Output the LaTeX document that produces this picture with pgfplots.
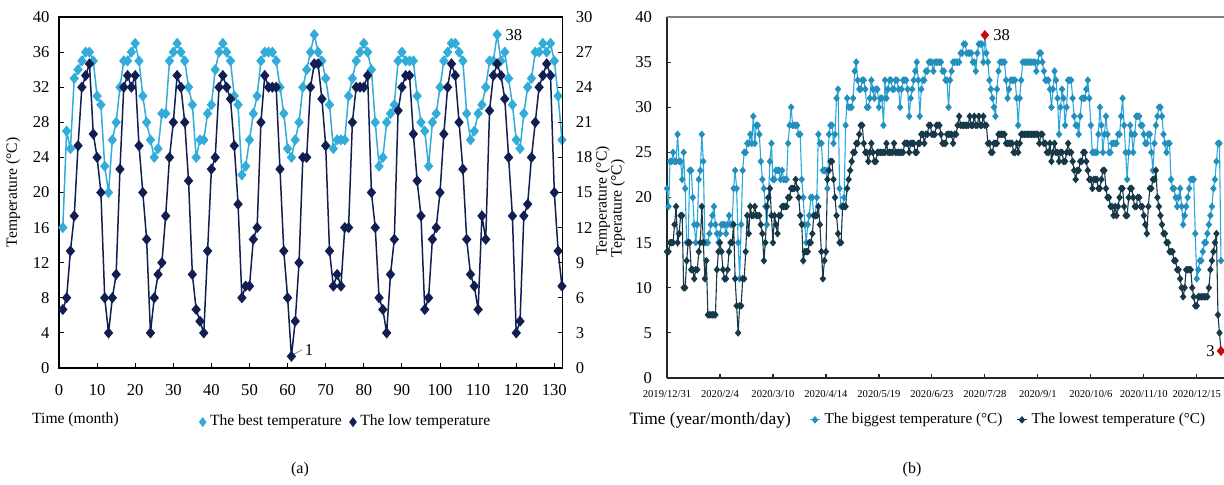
\documentclass[border=0pt]{standalone}
\usepackage{fontspec}
\setmainfont{Liberation Serif}
\usepackage{pgfplots}
\pgfplotsset{compat=1.18}
\definecolor{bestA}{RGB}{50,172,216}
\definecolor{lowA}{RGB}{16,30,82}
\definecolor{highB}{RGB}{40,168,222}
\definecolor{lowB}{RGB}{22,56,72}
\definecolor{redB}{RGB}{200,10,10}
\begin{document}
\begin{tikzpicture}
\path[use as bounding box] (0pt,0pt) rectangle (612pt,242pt);
% ---------------- panel (a) ----------------
\begin{axis}[
  at={(29.5pt,58pt)}, anchor=south west, scale only axis,
  width=251.85pt, height=175.5pt,
  xmin=0, xmax=132.2, ymin=0, ymax=40,
  xtick={0,10,...,130}, ytick={0,4,...,40},
  xtick pos=bottom, ytick pos=left, tick align=inside,
  major tick length=2.5pt, tick style={black, line width=0.5pt},
  axis line style={line width=0.6pt, black},
  ticklabel style={font=\fontsize{8.3}{9}\selectfont},
  xticklabel shift=4.5pt, yticklabel shift=1.2pt,
  /pgf/number format/assume math mode=true,
  clip=false,
  legend style={at={(axis description cs:0.278,-0.154)}, anchor=west, draw=none, fill=none,
    font=\fontsize{7.8}{9}\selectfont, legend columns=2,
    /tikz/every even column/.append style={column sep=2pt}, inner sep=0pt, legend cell align=left},
  legend image code/.code={\draw[#1] plot coordinates {(0pt,0pt)};},
]
\addplot[bestA, line width=0.75pt, mark=diamond*, mark size=2.2pt, mark options={fill=bestA, draw=bestA, xscale=1.12}, forget plot] coordinates {
(1,16)(2,27)(3,25)(4,33)(5,34)(6,35)(7,36)(8,36)(9,35)(10,31)
(11,30)(12,23)(13,20)(14,26)(15,28)(16,32)(17,35)(18,35)(19,36)(20,37)
(21,35)(22,31)(23,28)(24,26)(25,24)(26,25)(27,29)(28,29)(29,35)(30,36)
(31,37)(32,36)(33,35)(34,32)(35,30)(36,24)(37,26)(38,26)(39,29)(40,30)
(41,34)(42,36)(43,37)(44,36)(45,35)(46,31)(47,30)(48,22)(49,23)(50,26)
(51,29)(52,31)(53,35)(54,36)(55,36)(56,36)(57,35)(58,32)(59,29)(60,25)
(61,24)(62,26)(63,28)(64,32)(65,34)(66,36)(67,38)(68,36)(69,35)(70,33)
(71,30)(72,25)(73,26)(74,26)(75,26)(76,31)(77,33)(78,35)(79,36)(80,37)
(81,36)(82,34)(83,28)(84,23)(85,24)(86,28)(87,29)(88,30)(89,35)(90,36)
(91,35)(92,35)(93,35)(94,31)(95,28)(96,27)(97,23)(98,28)(99,29)(100,32)
(101,35)(102,36)(103,37)(104,37)(105,36)(106,35)(107,29)(108,26)(109,27)(110,29)
(111,30)(112,32)(113,35)(114,35)(115,38)(116,35)(117,36)(118,33)(119,30)(120,26)
(121,25)(122,29)(123,32)(124,33)(125,36)(126,36)(127,37)(128,36)(129,37)(130,35)
(131,31)(132,26)};
\addlegendimage{only marks, mark=diamond*, mark size=2.2pt, bestA}
\addlegendentry{The best temperature}
\addlegendimage{only marks, mark=diamond*, mark size=2.2pt, lowA}
\addlegendentry{The low temperature}
\node[anchor=west, inner sep=0pt, font=\fontsize{8.3}{9}\selectfont] at (axis cs:115,38) [xshift=4pt] {38};
\node[anchor=west, inner sep=0pt, font=\fontsize{7.8}{9}\selectfont] at (axis description cs:-0.054,-0.148) {Time (month)};
\node[rotate=90, anchor=center, inner sep=0pt, font=\fontsize{7.8}{9}\selectfont] at (axis description cs:-0.091,0.5) {Temperature (°C)};
\end{axis}
\begin{axis}[
  at={(29.5pt,58pt)}, anchor=south west, scale only axis,
  width=251.85pt, height=175.5pt,
  xmin=0, xmax=132.2, ymin=0, ymax=30,
  axis x line=none, axis y line*=right,
  ytick={0,3,...,30}, tick align=inside,
  major tick length=2.5pt, tick style={black, line width=0.5pt},
  axis line style={line width=0.6pt, black},
  ticklabel style={font=\fontsize{8.3}{9}\selectfont},
  yticklabel shift=3pt,
  /pgf/number format/assume math mode=true,
  clip=false,
]
\addplot[lowA, line width=0.75pt, mark=diamond*, mark size=2.2pt, mark options={fill=lowA, draw=lowA, xscale=1.12}] coordinates {
(1,5)(2,6)(3,10)(4,13)(5,19)(6,24)(7,25)(8,26)(9,20)(10,18)
(11,15)(12,6)(13,3)(14,6)(15,8)(16,17)(17,24)(18,25)(19,24)(20,25)
(21,19)(22,15)(23,11)(24,3)(25,6)(26,8)(27,9)(28,13)(29,18)(30,21)
(31,25)(32,24)(33,21)(34,16)(35,8)(36,5)(37,4)(38,3)(39,10)(40,17)
(41,18)(42,24)(43,25)(44,24)(45,23)(46,19)(47,14)(48,6)(49,7)(50,7)
(51,11)(52,12)(53,21)(54,25)(55,24)(56,24)(57,24)(58,17)(59,10)(60,6)
(61,1)(62,4)(63,9)(64,18)(65,18)(66,24)(67,26)(68,26)(69,23)(70,19)
(71,10)(72,7)(73,8)(74,7)(75,12)(76,12)(77,21)(78,24)(79,24)(80,24)
(81,25)(82,15)(83,12)(84,6)(85,5)(86,3)(87,8)(88,11)(89,22)(90,24)
(91,25)(92,25)(93,20)(94,16)(95,13)(96,5)(97,6)(98,11)(99,12)(100,15)
(101,20)(102,24)(103,26)(104,25)(105,21)(106,17)(107,11)(108,8)(109,7)(110,5)
(111,13)(112,11)(113,22)(114,25)(115,26)(116,25)(117,23)(118,18)(119,13)(120,3)
(121,4)(122,13)(123,14)(124,18)(125,21)(126,24)(127,25)(128,26)(129,25)(130,15)
(131,10)(132,7)};
\draw[gray, line width=0.4pt] (axis cs:61,1) ++(0.8pt,0.8pt) -- ++(4.5pt,2.5pt);
\node[anchor=west, inner sep=0pt, font=\fontsize{8.3}{9}\selectfont] at (axis cs:61,1) [xshift=6.5pt, yshift=3pt] {1};
\end{axis}
\node[font=\fontsize{8}{9}\selectfont] at (150pt,7pt) {(a)};
% ---------------- panel (b) ----------------
\begin{axis}[
  at={(333.5pt,53pt)}, anchor=south west, scale only axis,
  width=278.5pt, height=180.5pt,
  xmin=0, xmax=368, ymin=0, ymax=40,
  axis x line*=bottom, axis y line*=left,
  axis line style={line width=1pt, black!85},
  xtick={0,35,...,350},
  xticklabels={2019/12/31,2020/2/4,2020/3/10,2020/4/14,2020/5/19,2020/6/23,2020/7/28,2020/9/1,2020/10/6,2020/11/10,2020/12/15},
  ytick={0,5,...,40},
  tick align=inside, major tick length=2pt, tick style={black!85, line width=0.6pt},
  xticklabel style={font=\fontsize{5.3}{6}\selectfont},
  yticklabel style={font=\fontsize{8.3}{9}\selectfont},
  xticklabel shift=2.5pt, yticklabel shift=4pt,
  /pgf/number format/assume math mode=true,
  clip=false,
  legend style={at={(axis description cs:0.255,-0.116)}, anchor=west, draw=none, fill=none,
    font=\fontsize{7.6}{9}\selectfont, legend columns=2,
    /tikz/every even column/.append style={column sep=5pt}, inner sep=0pt, legend cell align=left},
  legend image code/.code={\draw[#1, mark repeat=2, mark phase=2] plot coordinates {(0pt,0pt) (2.5pt,0pt) (5pt,0pt)};},
]
\draw[gray, line width=0.6pt] (rel axis cs:0,1) -- (rel axis cs:1,1);
\addplot[highB, line width=0.55pt, mark=diamond*, mark size=1.5pt, mark options={fill=highB!85!black, draw=highB!85!black, xscale=1.12}] coordinates {
(0,21)(1,19)(2,24)(3,24)(4,25)(5,24)(6,24)(7,27)(8,24)(9,24)(10,22)(11,25)(12,21)(13,15)(14,15)(15,23)(16,23)(17,20)(18,17)(19,15)
(20,17)(21,22)(22,23)(23,27)(24,24)(25,15)(26,15)(27,15)(28,16)(29,17)(30,18)(31,19)(32,17)(33,16)(34,15)(35,16)(36,17)(37,17)(38,17)(39,16)
(40,17)(41,18)(42,17)(43,17)(44,21)(45,23)(46,21)(47,15)(48,11)(49,17)(50,23)(51,25)(52,25)(53,26)(54,26)(55,27)(56,26)(57,29)(58,26)(59,28)
(60,28)(61,27)(62,24)(63,22)(64,21)(65,19)(66,17)(67,20)(68,24)(69,26)(70,22)(71,22)(72,23)(73,23)(74,23)(75,22)(76,23)(77,22)(78,22)(79,22)
(80,26)(81,28)(82,30)(83,28)(84,28)(85,28)(86,28)(87,27)(88,27)(89,22)(90,20)(91,17)(92,15)(93,17)(94,18)(95,20)(96,20)(97,18)(98,18)(99,20)
(100,27)(101,26)(102,26)(103,23)(104,23)(105,23)(106,21)(107,27)(108,28)(109,28)(110,26)(111,27)(112,31)(113,32)(114,21)(115,19)(116,19)(117,20)(118,28)(119,31)
(120,30)(121,30)(122,30)(123,31)(124,34)(125,35)(126,33)(127,32)(128,32)(129,33)(130,33)(131,32)(132,30)(133,30)(134,31)(135,33)(136,32)(137,31)(138,32)(139,32)
(140,30)(141,31)(142,31)(143,28)(144,33)(145,31)(146,32)(147,33)(148,33)(149,32)(150,32)(151,33)(152,33)(153,32)(154,30)(155,32)(156,33)(157,33)(158,33)(159,32)
(160,29)(161,31)(162,32)(163,33)(164,34)(165,35)(166,33)(167,29)(168,32)(169,33)(170,33)(171,34)(172,34)(173,35)(174,35)(175,35)(176,34)(177,35)(178,35)(179,35)
(180,35)(181,35)(182,34)(183,34)(184,33)(185,33)(186,30)(187,33)(188,34)(189,35)(190,35)(191,35)(192,35)(193,35)(194,36)(195,36)(196,37)(197,37)(198,36)(199,36)
(200,36)(201,36)(202,35)(203,35)(204,34)(205,36)(206,37)(207,37)(208,37)(209,35)(210,38)(211,36)(212,35)(213,33)(214,32)(215,31)(216,30)(217,29)(218,32)(219,34)
(220,35)(221,35)(222,35)(223,35)(224,33)(225,31)(226,32)(227,33)(228,33)(229,33)(230,33)(231,31)(232,28)(233,31)(234,33)(235,35)(236,35)(237,35)(238,35)(239,35)
(240,35)(241,35)(242,35)(243,35)(244,34)(245,35)(246,36)(247,36)(248,35)(249,34)(250,33)(251,33)(252,33)(253,32)(254,30)(255,32)(256,34)(257,33)(258,31)(259,27)
(260,30)(261,32)(262,31)(263,28)(264,30)(265,33)(266,33)(267,33)(268,31)(269,29)(270,28)(271,28)(272,27)(273,29)(274,31)(275,31)(276,31)(277,32)(278,33)(279,31)
(280,28)(281,25)(282,25)(283,25)(284,25)(285,27)(286,30)(287,28)(288,25)(289,27)(290,29)(291,27)(292,25)(293,25)(294,26)(295,26)(296,26)(297,26)(298,27)(299,27)
(300,29)(301,31)(302,28)(303,25)(304,22)(305,25)(306,28)(307,27)(308,25)(309,27)(310,29)(311,29)(312,29)(313,28)(314,28)(315,27)(316,26)(317,26)(318,27)(319,27)
(320,25)(321,23)(322,26)(323,28)(324,29)(325,30)(326,30)(327,29)(328,27)(329,26)(330,25)(331,26)(332,26)(333,22)(334,21)(335,21)(336,20)(337,19)(338,20)(339,21)
(340,19)(341,17)(342,18)(343,19)(344,20)(345,21)(346,22)(347,22)(348,22)(349,16)(350,11)(351,12)(352,13)(353,13)(354,14)(355,15)(356,15)(357,16)(358,17)(359,18)
(360,19)(361,21)(362,22)(363,24)(364,26)(365,26)(366,13)};
\addlegendentry{The biggest temperature (°C)}
\addplot[lowB, line width=0.55pt, mark=diamond*, mark size=1.5pt, mark options={fill=lowB, draw=lowB, xscale=1.12}] coordinates {
(0,14)(1,14)(2,15)(3,15)(4,15)(5,17)(6,19)(7,15)(8,16)(9,18)(10,18)(11,10)(12,10)(13,13)(14,15)(15,15)(16,12)(17,12)(18,11)(19,12)
(20,12)(21,14)(22,15)(23,19)(24,15)(25,11)(26,13)(27,7)(28,7)(29,7)(30,7)(31,7)(32,7)(33,12)(34,14)(35,15)(36,14)(37,12)(38,11)(39,11)
(40,12)(41,14)(42,15)(43,15)(44,17)(45,11)(46,8)(47,5)(48,8)(49,8)(50,11)(51,11)(52,14)(53,18)(54,16)(55,19)(56,18)(57,18)(58,19)(59,18)
(60,18)(61,18)(62,17)(63,16)(64,13)(65,15)(66,19)(67,20)(68,21)(69,18)(70,15)(71,18)(72,17)(73,16)(74,18)(75,18)(76,19)(77,19)(78,19)(79,19)
(80,20)(81,20)(82,21)(83,21)(84,21)(85,22)(86,21)(87,20)(88,18)(89,17)(90,13)(91,14)(92,14)(93,14)(94,15)(95,15)(96,16)(97,18)(98,18)(99,18)
(100,19)(101,17)(102,14)(103,11)(104,13)(105,14)(106,22)(107,23)(108,24)(109,24)(110,22)(111,20)(112,18)(113,16)(114,15)(115,15)(116,19)(117,19)(118,19)(119,21)
(120,22)(121,23)(122,24)(123,25)(124,25)(125,26)(126,26)(127,27)(128,28)(129,28)(130,26)(131,25)(132,25)(133,24)(134,25)(135,26)(136,25)(137,24)(138,24)(139,25)
(140,25)(141,25)(142,25)(143,25)(144,25)(145,26)(146,25)(147,25)(148,25)(149,25)(150,26)(151,25)(152,25)(153,25)(154,25)(155,25)(156,25)(157,26)(158,26)(159,26)
(160,25)(161,26)(162,26)(163,26)(164,25)(165,25)(166,26)(167,26)(168,27)(169,27)(170,26)(171,27)(172,27)(173,28)(174,28)(175,27)(176,27)(177,27)(178,28)(179,28)
(180,28)(181,27)(182,26)(183,26)(184,26)(185,27)(186,27)(187,27)(188,27)(189,26)(190,27)(191,27)(192,28)(193,29)(194,28)(195,28)(196,28)(197,28)(198,28)(199,28)
(200,29)(201,28)(202,28)(203,29)(204,28)(205,28)(206,29)(207,28)(208,28)(209,29)(210,28)(211,28)(212,26)(213,26)(214,25)(215,25)(216,26)(217,26)(218,26)(219,27)
(220,27)(221,27)(222,27)(223,27)(224,26)(225,26)(226,26)(227,26)(228,26)(229,25)(230,25)(231,26)(232,25)(233,26)(234,27)(235,27)(236,27)(237,27)(238,27)(239,27)
(240,27)(241,27)(242,27)(243,27)(244,27)(245,27)(246,26)(247,27)(248,27)(249,26)(250,26)(251,25)(252,25)(253,26)(254,24)(255,25)(256,26)(257,25)(258,25)(259,24)
(260,25)(261,25)(262,24)(263,24)(264,25)(265,26)(266,25)(267,25)(268,24)(269,23)(270,22)(271,23)(272,23)(273,24)(274,24)(275,25)(276,25)(277,24)(278,23)(279,22)
(280,22)(281,21)(282,22)(283,22)(284,22)(285,21)(286,21)(287,22)(288,23)(289,23)(290,21)(291,20)(292,20)(293,19)(294,19)(295,18)(296,19)(297,18)(298,19)(299,20)
(300,21)(301,21)(302,19)(303,18)(304,18)(305,20)(306,21)(307,21)(308,20)(309,19)(310,19)(311,20)(312,20)(313,19)(314,19)(315,18)(316,17)(317,16)(318,19)(319,21)
(320,21)(321,22)(322,22)(323,23)(324,20)(325,19)(326,18)(327,17)(328,16)(329,16)(330,15)(331,15)(332,14)(333,14)(334,14)(335,13)(336,13)(337,12)(338,12)(339,11)
(340,10)(341,9)(342,10)(343,12)(344,12)(345,12)(346,12)(347,10)(348,9)(349,8)(350,8)(351,9)(352,9)(353,9)(354,9)(355,9)(356,9)(357,9)(358,10)(359,12)
(360,13)(361,14)(362,15)(363,16)(364,7)(365,5)(366,3)};
\addlegendentry{The lowest temperature (°C)}
\addplot[only marks, mark=diamond*, mark size=2.2pt, mark options={xscale=1.12}, redB, forget plot] coordinates {(210,38)(366,3)};
\node[anchor=west, inner sep=0pt, font=\fontsize{8.3}{9}\selectfont] at (axis cs:210,38) [xshift=4pt] {38};
\node[anchor=east, inner sep=0pt, font=\fontsize{8.3}{9}\selectfont] at (axis cs:366,3) [xshift=-3pt] {3};
\node[anchor=west, inner sep=0pt, font=\fontsize{8.7}{10}\selectfont] at (axis description cs:-0.068,-0.116) {Time (year/month/day)};
\node[rotate=90, anchor=center, inner sep=0pt, font=\fontsize{7.8}{9}\selectfont] at (axis description cs:-0.115,0.49) {Temperature (°C)};
\node[rotate=90, anchor=center, inner sep=0pt, font=\fontsize{7.8}{9}\selectfont] at (axis description cs:-0.088,0.47) {Teperature (°C)};
\end{axis}
\node[font=\fontsize{8}{9}\selectfont] at (456pt,7pt) {(b)};
\end{tikzpicture}
\end{document}
